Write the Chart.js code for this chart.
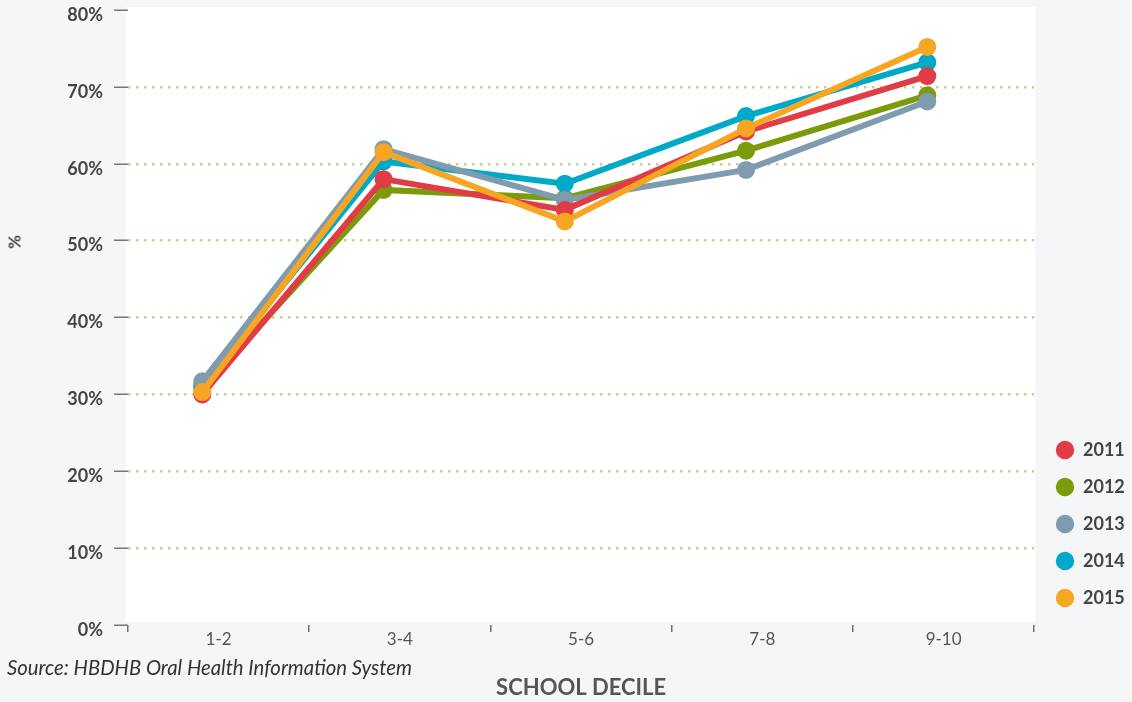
<!DOCTYPE html>
<html><head><meta charset="utf-8">
<script src="https://cdn.jsdelivr.net/npm/chart.js@4.4.1/dist/chart.umd.min.js"></script>
<style>
html,body{margin:0;padding:0;background:#f5f6f8;}
#wrap{position:relative;width:1132px;height:702px;overflow:hidden;}
canvas{position:absolute;left:0;top:0;}
#ytitle{position:absolute;left:14px;top:242px;transform:translate(-50%,-50%) rotate(-90deg);font:bold 17px Lato;color:#444;}
#source{position:absolute;left:7px;top:667px;transform:translateY(-50%);font:italic 20.3px Lato;color:#333;white-space:nowrap;}
</style></head>
<body><div id="wrap"><canvas id="c" width="1132" height="702"></canvas><div id="ytitle">%</div><div id="source">Source: HBDHB Oral Health Information System</div></div>
<script>
// ---- data ----
const categories = ['1-2', '3-4', '5-6', '7-8', '9-10'];
const years = ['2011', '2012', '2013', '2014', '2015'];
const values2011 = [30.0, 58.0, 54.0, 64.2, 71.4];
const values2012 = [30.8, 56.6, 55.5, 61.7, 68.9];
const values2013 = [31.7, 61.9, 55.3, 59.2, 68.1];
const values2014 = [31.2, 60.3, 57.4, 66.2, 73.2];
const values2015 = [30.3, 61.5, 52.5, 64.6, 75.2];
const yTickValues = [0, 10, 20, 30, 40, 50, 60, 70, 80];
const xTitle = 'SCHOOL DECILE';

// ---- styles ----
const seriesValues = [values2011, values2012, values2013, values2014, values2015];
const colors = ['#e13b46', '#7b9b0a', '#7f9bb0', '#00a9c8', '#f6a623'];
const drawOrder = [2, 5, 3, 4, 1];
const FONT = 'Lato';
const pad = {top: 10, right: 0, bottom: 0, left: 0};

const plotBg = {
  id: 'plotBg',
  beforeDraw(chart) {
    const {ctx, chartArea: a} = chart;
    ctx.save();
    ctx.fillStyle = '#ffffff';
    ctx.fillRect(a.left - 2, a.top - 3, a.right - a.left + 3, a.bottom - a.top);
    ctx.restore();
  }
};
const legendShift = {
  id: 'legendShift',
  afterLayout(chart) {
    const lg = chart.legend;
    if (!lg) return;
    const dx = (1056 - lg.options.labels.padding) - lg.left;
    lg.left += dx; lg.right += dx;
    const dy = -76;
    lg.top += dy; lg.bottom += dy;
  }
};

const chart = new Chart(document.getElementById('c'), {
  type: 'line',
  data: {
    labels: categories,
    datasets: years.map((y, i) => ({
      label: y,
      data: seriesValues[i].map((v, j) => ({x: j, y: v})),
      xAxisID: 'xd',
      yAxisID: 'y',
      borderColor: colors[i],
      backgroundColor: colors[i],
      pointBackgroundColor: colors[i],
      pointBorderColor: colors[i],
      pointBorderWidth: 0,
      pointRadius: 9,
      pointHoverRadius: 9,
      borderWidth: 6,
      tension: 0,
      fill: false,
      order: drawOrder[i]
    }))
  },
  options: {
    responsive: false,
    animation: false,
    devicePixelRatio: 1,
    layout: {padding: pad},
    plugins: {
      tooltip: {enabled: false},
      legend: {
        position: 'right',
        align: 'end',
        labels: {
          usePointStyle: true,
          pointStyle: 'circle',
          boxHeight: 13,
          padding: 19,
          color: '#444',
          font: {family: FONT, size: 18, weight: 'bold'},
          sort: (a, b) => a.datasetIndex - b.datasetIndex
        }
      }
    },
    scales: {
      x: {
        type: 'category',
        position: 'bottom',
        offset: true,
        grid: {offset: true, drawOnChartArea: false, drawTicks: true, tickLength: 7, color: '#6f6f6f', tickColor: '#6f6f6f', lineWidth: 1.5},
        border: {display: false},
        ticks: {color: '#555', font: {family: FONT, size: 17}, padding: -3, maxRotation: 0, autoSkip: false},
        title: {display: true, text: xTitle, color: '#555', font: {family: FONT, size: 22, weight: 'bold'}, padding: {top: 0, bottom: 1}},
        afterFit(s) { s.height = 77; }
      },
      xd: {
        type: 'linear',
        display: false,
        position: 'bottom',
        min: -0.41,
        max: 4.59
      },
      y: {
        type: 'linear',
        min: yTickValues[0],
        max: yTickValues[yTickValues.length - 1],
        afterBuildTicks(s) { s.ticks = yTickValues.map(v => ({value: v})); },
        ticks: {
          callback: v => v + '%',
          color: '#444',
          font: {family: FONT, size: 18, weight: 'bold'},
          padding: 11,
          labelOffset: 5
        },
        grid: {
          color: c => (c.tick && (c.tick.value === 0 || c.tick.value === 80)) ? 'rgba(0,0,0,0)' : '#c4d196',
          lineWidth: 2.5,
          tickColor: '#777',
          tickWidth: 1.5,
          tickLength: 14,
          tickBorderDash: []
        },
        border: {display: false, dash: [2.5, 5.5]},
        afterFit(s) { s.width = 128; s.paddingTop = 0; s.paddingBottom = 0; }
      }
    }
  },
  plugins: [plotBg, legendShift]
});

for (let k = 0; k < 4; k++) {
  const a = chart.chartArea;
  const dr = a.right - 1034, dt = 10 - a.top;
  if (Math.abs(dr) < 0.5 && Math.abs(dt) < 0.5) break;
  pad.right = Math.max(-200, pad.right + dr);
  pad.top = Math.max(0, pad.top + dt);
  chart.update('none');
}
</script>
</body></html>
